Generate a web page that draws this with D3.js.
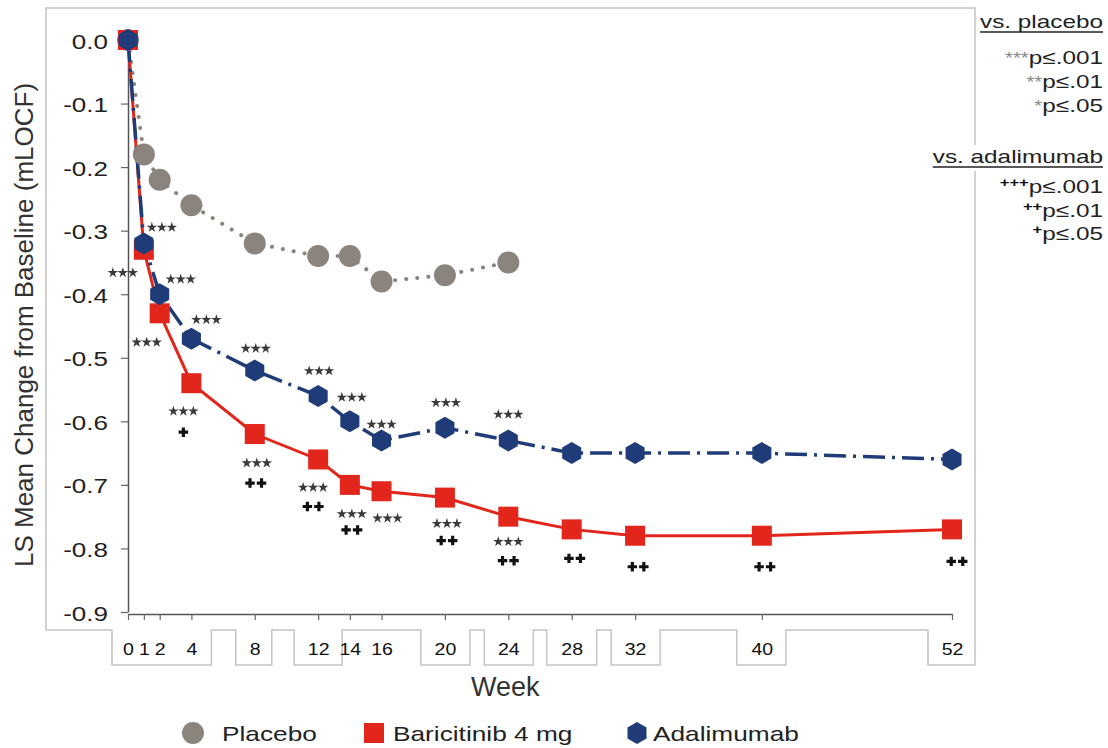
<!DOCTYPE html>
<html>
<head>
<meta charset="utf-8">
<title>LS Mean Change from Baseline</title>
<style>
body { margin: 0; background: #fff; }
svg { display: block; font-family: "Liberation Sans", Arial, sans-serif; }
</style>
</head>
<body>
<svg width="1108" height="748"></svg>
<script src="https://cdn.jsdelivr.net/npm/d3@7"></script>
<script>

// ---- data ----
var weeks = [0, 1, 2, 4, 8, 12, 14, 16, 20, 24, 28, 32, 40, 52];
var placeboWeeks = [0, 1, 2, 4, 8, 12, 14, 16, 20, 24];
var placebo = [0, -0.18, -0.22, -0.26, -0.32, -0.34, -0.34, -0.38, -0.37, -0.35];
var baricitinib = [0, -0.33, -0.43, -0.54, -0.62, -0.66, -0.70, -0.71, -0.72, -0.75, -0.77, -0.78, -0.78, -0.77];
var adalimumab = [0, -0.32, -0.40, -0.47, -0.52, -0.56, -0.60, -0.63, -0.61, -0.63, -0.65, -0.65, -0.65, -0.66];
var yTicks = [0, -0.1, -0.2, -0.3, -0.4, -0.5, -0.6, -0.7, -0.8, -0.9];

// significance marks, one per week
var adaVsPbo  = ["", "***", "***", "***", "***", "***", "***", "***", "***", "***", "", "", "", ""];
var bariVsPbo = ["", "***", "***", "***", "***", "***", "***", "***", "***", "***", "", "", "", ""];
var bariVsAda = ["", "", "", "+", "++", "++", "++", "", "++", "++", "++", "++", "++", "++"];

var seriesNames = ["Placebo", "Baricitinib 4 mg", "Adalimumab"];
var keyLines = [
  { t: "vs. placebo", head: true },
  { sup: "***", t: "p≤.001" },
  { sup: "**", t: "p≤.01" },
  { sup: "*", t: "p≤.05" },
  { t: "vs. adalimumab", head: true },
  { sup: "+++", t: "p≤.001" },
  { sup: "++", t: "p≤.01" },
  { sup: "+", t: "p≤.05" }
];

// ---- layout (pixel offsets of the marks from their point) ----
var adaMarkOff  = [null, [18,-16], [21,-15], [15,-19], [1,-22], [1,-25], [2,-24], [0,-16], [1,-25], [0,-26]];
var bariStarOff = [null, [-21,23], [-13,29], [-8,28], [2,29], [-5,28], [2,29], [6,27], [2,26], [0,25]];
var bariPlusOff = [null, null, null, [-8,49], [1,49], [-5,47], [2,45], null, [2,43], [0,44], [3,29], [3,31], [3,31], [5,32]];
var labelBoxes = [
  { from: 0, to: 4, l: 16, r: 20 }, { from: 8, to: 8, l: 19, r: 17 },
  { from: 12, to: 12, l: 24, r: 24 }, { from: 20, to: 20, l: 24, r: 25 },
  { from: 24, to: 24, l: 24, r: 25 }, { from: 28, to: 28, l: 25, r: 25 },
  { from: 32, to: 32, l: 24, r: 25 }, { from: 40, to: 40, l: 25, r: 24 },
  { from: 52, to: 52, l: 24, r: 23 }
];

var cPbo = "#8a847d", cBari = "#e2261c", cAda = "#1f3c78";

var svg = d3.select("svg");
var x = d3.scaleLinear().domain([0, 52]).range([128, 952]);
var y = d3.scaleLinear().domain([0, -0.9]).range([40, 612]);
var axisY = 614;

function label(g, px, py, str, size, sx, anchor, color) {
  return g.append("text")
    .attr("transform", "translate(" + px + "," + py + ") scale(" + sx + ",1)")
    .attr("text-anchor", anchor || "start")
    .attr("font-size", size)
    .attr("fill", color || "#222")
    .text(str);
}

// outer frame with its notched bottom around the week labels
var frameL = 46, frameT = 8, frameR = x(52) + 23, frameB = 630, boxB = 665;
var p = "M" + frameL + "," + frameB + "V" + frameT + "H" + frameR + "V" + frameB;
labelBoxes.slice().reverse().forEach(function(b) {
  p += "H" + (x(b.to) + b.r) + "V" + boxB + "H" + (x(b.from) - b.l) + "V" + frameB;
});
p += "H" + frameL + "Z";
svg.append("path").attr("d", p).attr("fill", "none").attr("stroke", "#c4c4c4").attr("stroke-width", 1.5);

// axes
var gy = svg.append("g").attr("transform", "translate(" + x(0) + ",0)")
    .call(d3.axisLeft(y).tickValues(yTicks).tickSize(7).tickSizeOuter(0)
      .tickFormat(function(d) { return d.toFixed(1); }));
gy.selectAll(".tick text").attr("x", 0).attr("dy", null).attr("y", 8)
    .attr("transform", "translate(-20,0) scale(1.24,1)")
    .attr("font-size", 21).attr("fill", "#222").attr("font-family", null);

var gx = svg.append("g").attr("transform", "translate(0," + axisY + ")")
    .call(d3.axisBottom(x).tickValues(weeks).tickSize(6).tickSizeOuter(0));
gx.selectAll(".tick text").attr("y", 0).attr("dy", null)
    .attr("transform", "translate(0,41) scale(1.15,1)")
    .attr("font-size", 17).attr("fill", "#111").attr("font-family", null);

svg.selectAll(".domain").attr("stroke", "#555").attr("stroke-width", 1.5);
svg.selectAll(".tick line").attr("stroke", "#666").attr("stroke-width", 1.2);

label(svg, x(24) - 3, 696, "Week", 27, 1.0, "middle", "#333");
svg.append("text")
    .attr("transform", "translate(33,325) rotate(-90)")
    .attr("text-anchor", "middle").attr("font-size", 26).attr("fill", "#333")
    .text("LS Mean Change from Baseline (mLOCF)");

// lines
var line = d3.line().x(function(d) { return x(d[0]); }).y(function(d) { return y(d[1]); });
var pboPts = d3.zip(placeboWeeks, placebo);
var bariPts = d3.zip(weeks, baricitinib);
var adaPts = d3.zip(weeks, adalimumab);

svg.append("path").attr("d", line(pboPts)).attr("fill", "none").attr("stroke", cPbo)
    .attr("stroke-width", 4).attr("stroke-linecap", "round").attr("stroke-dasharray", "0.1,11");
svg.append("path").attr("d", line(bariPts)).attr("fill", "none").attr("stroke", cBari).attr("stroke-width", 3);
svg.append("path").attr("d", line(adaPts)).attr("fill", "none").attr("stroke", cAda)
    .attr("stroke-width", 3.5).attr("stroke-dasharray", "22,7,3,7");

// markers
var hexagon = function(r) {
  return d3.range(6).map(function(i) {
    var a = Math.PI / 3 * i;
    return [r * Math.sin(a), -r * Math.cos(a)];
  });
};
var hexPath = "M" + hexagon(11).join("L") + "Z";

svg.append("g").selectAll("circle").data(pboPts).join("circle")
    .attr("cx", function(d) { return x(d[0]); }).attr("cy", function(d) { return y(d[1]); })
    .attr("r", 11).attr("fill", cPbo);
svg.append("g").selectAll("rect").data(bariPts).join("rect")
    .attr("x", function(d) { return x(d[0]) - 10; }).attr("y", function(d) { return y(d[1]) - 10; })
    .attr("width", 20).attr("height", 20).attr("fill", cBari);
svg.append("g").selectAll("path").data(adaPts).join("path")
    .attr("transform", function(d) { return "translate(" + x(d[0]) + "," + y(d[1]) + ")"; })
    .attr("d", hexPath).attr("fill", cAda);

// significance marks
var star = d3.symbol().type(d3.symbolStar).size(34)();
var cross = d3.symbol().type(d3.symbolCross).size(50)();
function marks(cx, cy, str) {
  var isStar = str.charAt(0) === "*", n = str.length, gap = isStar ? 10 : 11.5;
  for (var i = 0; i < n; i++) {
    svg.append("path")
      .attr("transform", "translate(" + (cx + (i - (n - 1) / 2) * gap) + "," + cy + ")")
      .attr("d", isStar ? star : cross)
      .attr("fill", isStar ? "#3a3a3a" : "#111");
  }
}
weeks.forEach(function(w, i) {
  if (adaVsPbo[i]) marks(x(w) + adaMarkOff[i][0], y(adalimumab[i]) + adaMarkOff[i][1], adaVsPbo[i]);
  if (bariVsPbo[i]) marks(x(w) + bariStarOff[i][0], y(baricitinib[i]) + bariStarOff[i][1], bariVsPbo[i]);
  if (bariVsAda[i]) marks(x(w) + bariPlusOff[i][0], y(baricitinib[i]) + bariPlusOff[i][1], bariVsAda[i]);
});

// significance key, top right
var keyY = [28, 64, 88, 112, 163, 193, 217, 240];
var keyX = 1103, keySx = 1.28;
var keyBg = svg.append("g"), keyG = svg.append("g");
keyLines.forEach(function(k, i) {
  var t = keyG.append("text")
    .attr("transform", "translate(" + keyX + "," + keyY[i] + ") scale(" + keySx + ",1)")
    .attr("text-anchor", "end").attr("font-size", 19).attr("fill", "#222");
  if (k.sup) {
    var isStar = k.sup.charAt(0) === "*";
    t.append("tspan").attr("font-size", isStar ? 16 : 13).attr("dy", isStar ? 0 : -6)
      .attr("fill", isStar ? "#888" : "#111").attr("font-weight", isStar ? null : "bold").text(k.sup);
    t.append("tspan").attr("dy", isStar ? 0 : 6).text(k.t);
  } else {
    t.text(k.t);
  }
  if (k.head) {
    var w = t.node().getComputedTextLength() * keySx;
    keyBg.append("rect")
      .attr("x", keyX - w - 2).attr("y", keyY[i] - 18).attr("width", w + 4).attr("height", 26)
      .attr("fill", "#fff");
    keyG.append("line").attr("x1", keyX - w).attr("x2", keyX).attr("y1", keyY[i] + 4).attr("y2", keyY[i] + 4)
      .attr("stroke", "#222").attr("stroke-width", 1.6);
  }
});

// series legend, bottom
var legY = 733;
var lg = svg.append("g");
lg.append("circle").attr("cx", 193).attr("cy", legY).attr("r", 11).attr("fill", cPbo);
label(lg, 222, legY + 8, seriesNames[0], 21, 1.25);
lg.append("rect").attr("x", 364).attr("y", legY - 10).attr("width", 20).attr("height", 20).attr("fill", cBari);
label(lg, 393, legY + 8, seriesNames[1], 21, 1.25);
lg.append("path").attr("transform", "translate(637," + legY + ")").attr("d", hexPath).attr("fill", cAda);
label(lg, 653, legY + 8, seriesNames[2], 21, 1.25);

</script>
</body>
</html>
